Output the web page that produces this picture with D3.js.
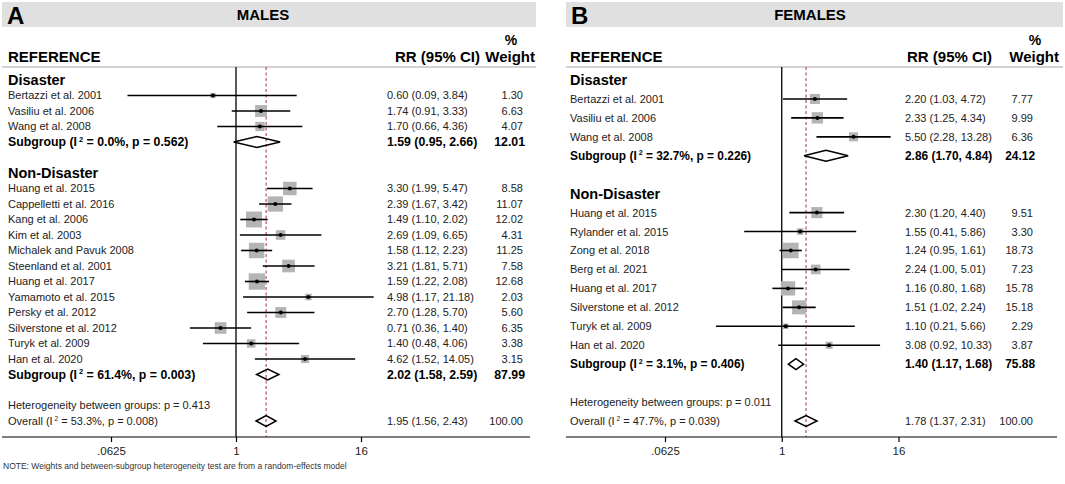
<!DOCTYPE html>
<html>
<head>
<meta charset="utf-8">
<script src="https://cdn.jsdelivr.net/npm/d3@7"></script>
<style>
  body { margin: 0; background: #fff; }
  svg { display: block; font-family: "Liberation Sans", Arial, sans-serif; }
</style>
</head>
<body>
<svg width="1065" height="484"></svg>
<script>
var width = 1065,
    height = 484;
var svg = d3.select("svg")
    .attr("width", width)
    .attr("height", height);

// ---- data: males ----
var maleGroups = ["Disaster", "Non-Disaster"];
var maleStudies = [
    ["Bertazzi et al. 2001", "Vasiliu et al. 2006", "Wang et al. 2008"],
    ["Huang et al. 2015", "Cappelletti et al. 2016", "Kang et al. 2006", "Kim et al. 2003",
     "Michalek and Pavuk 2008", "Steenland et al. 2001", "Huang et al. 2017", "Yamamoto et al. 2015",
     "Persky et al. 2012", "Silverstone et al. 2012", "Turyk et al. 2009", "Han et al. 2020"]
];
var maleRR = [[0.60, 1.74, 1.70], [3.30, 2.39, 1.49, 2.69, 1.58, 3.21, 1.59, 4.98, 2.70, 0.71, 1.40, 4.62]];
var maleLo = [[0.09, 0.91, 0.66], [1.99, 1.67, 1.10, 1.09, 1.12, 1.81, 1.22, 1.17, 1.28, 0.36, 0.48, 1.52]];
var maleHi = [[3.84, 3.33, 4.36], [5.47, 3.42, 2.02, 6.65, 2.23, 5.71, 2.08, 21.18, 5.70, 1.40, 4.06, 14.05]];
var maleWeight = [[1.30, 6.63, 4.07], [8.58, 11.07, 12.02, 4.31, 11.25, 7.58, 12.68, 2.03, 5.60, 6.35, 3.38, 3.15]];
var maleSubRR = [1.59, 2.02], maleSubLo = [0.95, 1.58], maleSubHi = [2.66, 2.59], maleSubWeight = [12.01, 87.99];
var maleSubI2 = ["0.0%", "61.4%"], maleSubP = ["0.562", "0.003"];
var maleHetP = "0.413";
var maleOverall = [1.95, 1.56, 2.43, 100.00], maleOverallI2 = "53.3%", maleOverallP = "0.008";

// ---- data: females ----
var femaleGroups = ["Disaster", "Non-Disaster"];
var femaleStudies = [
    ["Bertazzi et al. 2001", "Vasiliu et al. 2006", "Wang et al. 2008"],
    ["Huang et al. 2015", "Rylander et al. 2015", "Zong et al. 2018", "Berg et al. 2021",
     "Huang et al. 2017", "Silverstone et al. 2012", "Turyk et al. 2009", "Han et al. 2020"]
];
var femaleRR = [[2.20, 2.33, 5.50], [2.30, 1.55, 1.24, 2.24, 1.16, 1.51, 1.10, 3.08]];
var femaleLo = [[1.03, 1.25, 2.28], [1.20, 0.41, 0.95, 1.00, 0.80, 1.02, 0.21, 0.92]];
var femaleHi = [[4.72, 4.34, 13.28], [4.40, 5.86, 1.61, 5.01, 1.68, 2.24, 5.66, 10.33]];
var femaleWeight = [[7.77, 9.99, 6.36], [9.51, 3.30, 18.73, 7.23, 15.78, 15.18, 2.29, 3.87]];
var femaleSubRR = [2.86, 1.40], femaleSubLo = [1.70, 1.17], femaleSubHi = [4.84, 1.68], femaleSubWeight = [24.12, 75.88];
var femaleSubI2 = ["32.7%", "3.1%"], femaleSubP = ["0.226", "0.406"];
var femaleHetP = "0.011";
var femaleOverall = [1.78, 1.37, 2.31, 100.00], femaleOverallI2 = "47.7%", femaleOverallP = "0.039";

var tickValues = [0.0625, 1, 16];
var tickLabels = [".0625", "1", "16"];

var f2 = d3.format(".2f");
function ciText(rr, lo, hi) { return f2(rr) + " (" + f2(lo) + ", " + f2(hi) + ")"; }

// build the row list for one panel
function buildRows(groups, studies, rr, lo, hi, wt, sRR, sLo, sHi, sWt, sI2, sP, hetP, ov, ovI2, ovP) {
    var rows = [];
    groups.forEach(function(g, gi) {
        rows.push({type: "group", label: g});
        studies[gi].forEach(function(s, i) {
            rows.push({type: "study", label: s, rr: rr[gi][i], lo: lo[gi][i], hi: hi[gi][i], w: wt[gi][i]});
        });
        rows.push({type: "sub", i2: sI2[gi], p: sP[gi], rr: sRR[gi], lo: sLo[gi], hi: sHi[gi], w: sWt[gi]});
        rows.push({type: "blank"});
    });
    rows.push({type: "het", p: hetP});
    rows.push({type: "overall", i2: ovI2, p: ovP, rr: ov[0], lo: ov[1], hi: ov[2], w: ov[3]});
    return rows;
}

var panels = [
    {
        letter: "A", title: "MALES",
        x0: 2, x1: 536, titleX: 263,
        nameX: 8, rrX: 387, wtX: 523, wtHeadX: 535, rrHeadX: 480,
        plotRange: [111, 361], boxK: 4.6, boldSize: 12.3,
        rows: buildRows(maleGroups, maleStudies, maleRR, maleLo, maleHi, maleWeight,
            maleSubRR, maleSubLo, maleSubHi, maleSubWeight, maleSubI2, maleSubP,
            maleHetP, maleOverall, maleOverallI2, maleOverallP)
    },
    {
        letter: "B", title: "FEMALES",
        x0: 566, x1: 1063, titleX: 810,
        nameX: 570, rrX: 905, wtX: 1033, wtHeadX: 1059, rrHeadX: 992,
        plotRange: [665, 898.5], boxK: 3.6, boldSize: 11.9,
        rows: buildRows(femaleGroups, femaleStudies, femaleRR, femaleLo, femaleHi, femaleWeight,
            femaleSubRR, femaleSubLo, femaleSubHi, femaleSubWeight, femaleSubI2, femaleSubP,
            femaleHetP, femaleOverall, femaleOverallI2, femaleOverallP)
    }
];

var topY = 67, axisY = 437;

panels.forEach(function(p) {
    var g = svg.append("g");
    var x = d3.scaleLog().base(2).domain([0.0625, 16]).range(p.plotRange);
    var y = d3.scaleLinear().domain([0, p.rows.length - 1]).range([80, 421]);
    var overall = p.rows[p.rows.length - 1];

    // title bar
    g.append("rect")
        .attr("x", p.x0).attr("y", 2)
        .attr("width", p.x1 - p.x0).attr("height", 25)
        .attr("fill", "#e0e0e0");
    g.append("text")
        .attr("x", p.x0 + 5).attr("y", 24)
        .attr("font-size", 24).attr("font-weight", "bold")
        .text(p.letter);
    g.append("text")
        .attr("x", p.titleX).attr("y", 20)
        .attr("text-anchor", "middle")
        .attr("font-size", 15).attr("font-weight", "bold")
        .text(p.title);

    // column headers
    g.append("text")
        .attr("x", p.nameX).attr("y", 62)
        .attr("font-size", 15).attr("font-weight", "bold")
        .text("REFERENCE");
    g.append("text")
        .attr("x", p.rrHeadX).attr("y", 62)
        .attr("text-anchor", "end")
        .attr("font-size", 15).attr("font-weight", "bold")
        .text("RR (95% CI)");
    g.append("text")
        .attr("x", p.wtHeadX).attr("y", 62)
        .attr("text-anchor", "end")
        .attr("font-size", 15).attr("font-weight", "bold")
        .text("Weight");
    g.append("text")
        .attr("x", p.wtHeadX - 24).attr("y", 45)
        .attr("text-anchor", "middle")
        .attr("font-size", 14).attr("font-weight", "bold")
        .text("%");
    g.append("line")
        .attr("x1", p.x0).attr("x2", p.x1)
        .attr("y1", topY).attr("y2", topY)
        .attr("stroke", "#c4c4c4").attr("stroke-width", 1.5);

    // reference lines
    g.append("line")
        .attr("x1", x(1)).attr("x2", x(1))
        .attr("y1", topY).attr("y2", axisY)
        .attr("stroke", "#000").attr("stroke-width", 1.3);
    g.append("line")
        .attr("x1", x(overall.rr)).attr("x2", x(overall.rr))
        .attr("y1", topY).attr("y2", axisY)
        .attr("stroke", "#a3303f").attr("stroke-width", 1)
        .attr("stroke-dasharray", "3,2.5");

    // study rows
    var studies = p.rows.map(function(d, i) { d.i = i; return d; })
        .filter(function(d) { return d.type === "study"; });

    g.selectAll(".box")
        .data(studies)
        .enter()
        .append("rect")
        .attr("x", function(d) { return x(d.rr) - p.boxK * Math.sqrt(d.w) / 2; })
        .attr("y", function(d) { return y(d.i) - p.boxK * Math.sqrt(d.w) / 2; })
        .attr("width", function(d) { return p.boxK * Math.sqrt(d.w); })
        .attr("height", function(d) { return p.boxK * Math.sqrt(d.w); })
        .attr("fill", "#b4b4b4");

    g.selectAll(".ci")
        .data(studies)
        .enter()
        .append("line")
        .attr("x1", function(d) { return x(d.lo); })
        .attr("x2", function(d) { return x(d.hi); })
        .attr("y1", function(d) { return y(d.i); })
        .attr("y2", function(d) { return y(d.i); })
        .attr("stroke", "#000").attr("stroke-width", 1.6);

    g.selectAll(".dot")
        .data(studies)
        .enter()
        .append("circle")
        .attr("cx", function(d) { return x(d.rr); })
        .attr("cy", function(d) { return y(d.i); })
        .attr("r", 2)
        .attr("fill", "#000");

    // diamonds
    var pooled = p.rows.filter(function(d) { return d.type === "sub" || d.type === "overall"; });
    g.selectAll(".diamond")
        .data(pooled)
        .enter()
        .append("path")
        .attr("d", function(d) {
            var yy = y(d.i);
            return "M" + x(d.lo) + "," + yy + "L" + x(d.rr) + "," + (yy - 5.5) +
                "L" + x(d.hi) + "," + yy + "L" + x(d.rr) + "," + (yy + 5.5) + "Z";
        })
        .attr("fill", "none")
        .attr("stroke", "#000").attr("stroke-width", 1.5);

    // left column labels
    p.rows.forEach(function(d) {
        var yy = y(d.i);
        if (d.type === "group") {
            g.append("text")
                .attr("x", p.nameX).attr("y", yy).attr("dy", "0.36em")
                .attr("font-size", 14.5).attr("font-weight", "bold")
                .text(d.label);
        } else if (d.type === "study") {
            g.append("text")
                .attr("x", p.nameX).attr("y", yy).attr("dy", "0.36em")
                .attr("font-size", 11).attr("fill", "#222")
                .text(d.label);
        } else if (d.type === "het") {
            g.append("text")
                .attr("x", p.nameX).attr("y", yy).attr("dy", "0.36em")
                .attr("font-size", 11).attr("fill", "#222")
                .text("Heterogeneity between groups: p = " + d.p);
        } else if (d.type === "sub" || d.type === "overall") {
            var bold = d.type === "sub";
            var fs = bold ? p.boldSize : 11;
            var t = g.append("text")
                .attr("x", p.nameX).attr("y", yy).attr("dy", "0.36em")
                .attr("font-size", fs)
                .attr("font-weight", bold ? "bold" : "normal")
                .attr("fill", bold ? "#000" : "#222");
            t.append("tspan").text((bold ? "Subgroup" : "Overall") + " (I");
            t.append("tspan").attr("dy", -fs * 0.4).attr("font-size", fs * 0.6).text(" 2");
            t.append("tspan").attr("dy", fs * 0.4).text(" = " + d.i2 + ", p = " + d.p + ")");
        }
        if (d.rr !== undefined) {
            var b = d.type === "sub";
            g.append("text")
                .attr("x", p.rrX).attr("y", yy).attr("dy", "0.36em")
                .attr("font-size", b ? p.boldSize : 11)
                .attr("font-weight", b ? "bold" : "normal")
                .attr("fill", b ? "#000" : "#222")
                .text(ciText(d.rr, d.lo, d.hi));
            g.append("text")
                .attr("x", b ? p.wtX + 2 : p.wtX).attr("y", yy).attr("dy", "0.36em")
                .attr("text-anchor", "end")
                .attr("font-size", b ? p.boldSize : 11)
                .attr("font-weight", b ? "bold" : "normal")
                .attr("fill", b ? "#000" : "#222")
                .text(f2(d.w));
        }
    });

    // x axis
    g.append("line")
        .attr("x1", p.x0).attr("x2", p.x1 - 6)
        .attr("y1", axisY).attr("y2", axisY)
        .attr("stroke", "#000").attr("stroke-width", 1.2);
    var axis = g.append("g")
        .attr("transform", "translate(0," + axisY + ")")
        .call(d3.axisBottom(x)
            .tickValues(tickValues)
            .tickSize(5)
            .tickFormat(function(d, i) { return tickLabels[i]; }));
    axis.select(".domain").remove();
    axis.selectAll(".tick line").attr("stroke", "#000").attr("stroke-width", 1.2);
    axis.selectAll(".tick text")
        .attr("font-size", 11.5)
        .attr("font-family", "Liberation Sans, Arial, sans-serif")
        .attr("fill", "#222")
        .attr("dy", "0.9em");
});

svg.append("text")
    .attr("x", 3).attr("y", 469)
    .attr("font-size", 8.5).attr("fill", "#333")
    .text("NOTE: Weights and between-subgroup heterogeneity test are from a random-effects model");
</script>
</body>
</html>
